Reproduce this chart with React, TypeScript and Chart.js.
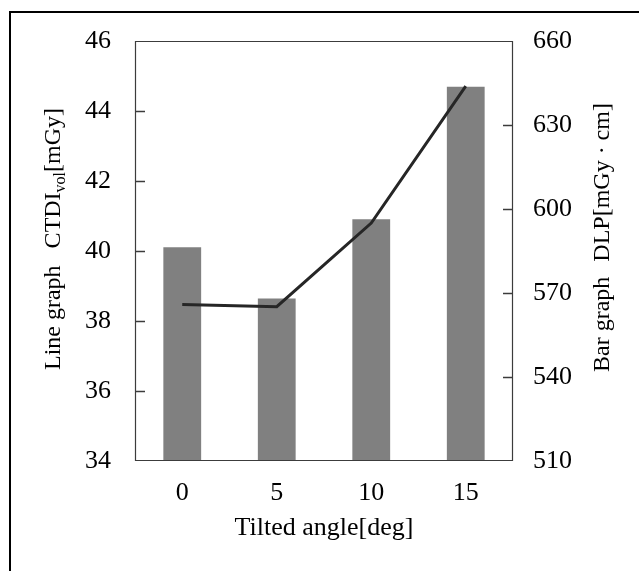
import React, { useEffect, useRef } from 'react';
import { Chart, registerables } from 'chart.js';

Chart.register(...registerables);

const categories = ['0', '5', '10', '15'];
const dlpValues = [586.3, 568.0, 596.3, 643.7];
const ctdiValues = [38.47, 38.41, 40.8, 44.71];
const leftTickValues = [34, 36, 38, 40, 42, 44, 46];
const rightTickValues = [510, 540, 570, 600, 630, 660];

const xTitle = 'Tilted angle[deg]';
const leftTitleParts = ['Line graph', 'CTDI', 'vol', '[mGy]'];
const rightTitleParts = ['Bar graph', 'DLP[mGy \u00B7 cm]'];

const FONT = '"Liberation Serif", "Times New Roman", serif';
const TEXT = '#000000';
const AXIS = '#3c3c3c';

const decorPlugin = {
  id: 'decor',
  afterDraw(chart: any) {
    const { ctx, chartArea: a } = chart;
    const ys = chart.scales['y'];
    const y1 = chart.scales['y1'];
    ctx.save();
    // outer frame (top + left edges)
    ctx.fillStyle = '#000';
    ctx.fillRect(9, 11, 2, chart.height - 11);
    ctx.fillRect(9, 11, chart.width - 9, 2);

    // plot box
    ctx.strokeStyle = AXIS;
    ctx.lineWidth = 1.2;
    const L = Math.round(a.left) + 0.5;
    const T = Math.round(a.top) + 0.5;
    const R = Math.round(a.right) - 0.5;
    const B = Math.round(a.bottom) - 0.5;
    ctx.beginPath();
    ctx.rect(L, T, R - L, B - T);
    ctx.stroke();

    // inner tick marks
    ctx.fillStyle = AXIS;
    for (let i = 1; i < leftTickValues.length - 1; i++) {
      const py = Math.round(ys.getPixelForValue(leftTickValues[i]));
      ctx.fillRect(Math.round(a.left), py - 0.25, 10, 1.5);
    }
    for (let i = 1; i < rightTickValues.length - 1; i++) {
      const py = Math.round(y1.getPixelForValue(rightTickValues[i]));
      ctx.fillRect(Math.round(a.right) - 10, py - 0.25, 10, 1.5);
    }

    // x title
    ctx.fillStyle = TEXT;
    ctx.textBaseline = 'alphabetic';
    ctx.textAlign = 'center';
    ctx.font = `26px ${FONT}`;
    ctx.fillText(xTitle, (a.left + a.right) / 2, 535);

    // left title
    ctx.save();
    ctx.translate(60, 370);
    ctx.rotate(-Math.PI / 2);
    ctx.textAlign = 'left';
    let x = 0;
    ctx.font = `24px ${FONT}`;
    ctx.fillText(leftTitleParts[0], x, 0);
    x += ctx.measureText(leftTitleParts[0]).width + 17;
    ctx.fillText(leftTitleParts[1], x, 0);
    x += ctx.measureText(leftTitleParts[1]).width;
    ctx.font = `16px ${FONT}`;
    ctx.fillText(leftTitleParts[2], x, 5);
    x += ctx.measureText(leftTitleParts[2]).width;
    ctx.font = `24px ${FONT}`;
    ctx.fillText(leftTitleParts[3], x, 0);
    ctx.restore();

    // right title
    ctx.save();
    ctx.translate(609, 372);
    ctx.rotate(-Math.PI / 2);
    ctx.textAlign = 'left';
    ctx.font = `24px ${FONT}`;
    let x2 = 0;
    ctx.fillText(rightTitleParts[0], x2, 0);
    x2 += ctx.measureText(rightTitleParts[0]).width + 15;
    ctx.fillText(rightTitleParts[1], x2, 0);
    ctx.restore();

    ctx.restore();
  },
};

export default function App() {
  const ref = useRef<HTMLCanvasElement | null>(null);

  useEffect(() => {
    if (!ref.current) return;
    const chart = new Chart(ref.current, {
      type: 'bar',
      data: {
        labels: categories,
        datasets: [
          {
            type: 'line',
            label: 'CTDIvol',
            data: ctdiValues,
            yAxisID: 'y',
            borderColor: '#262626',
            borderWidth: 3,
            pointRadius: 0,
            tension: 0,
            fill: false,
            order: 0,
          } as any,
          {
            type: 'bar',
            label: 'DLP',
            data: dlpValues,
            yAxisID: 'y1',
            backgroundColor: '#808080',
            borderWidth: 0,
            categoryPercentage: 1,
            barPercentage: 0.4,
            order: 1,
          },
        ],
      },
      options: {
        responsive: false,
        animation: false,
        layout: { padding: { top: 41, left: 0, right: 0, bottom: 0 } },
        plugins: {
          legend: { display: false },
          tooltip: { enabled: false },
        },
        scales: {
          x: {
            position: 'bottom',
            grid: { display: false, drawTicks: false },
            border: { display: false },
            ticks: {
              font: { family: FONT, size: 26 },
              color: TEXT,
              padding: 17,
              maxRotation: 0,
            },
            afterFit: (s: any) => {
              s.height = 110;
            },
          },
          y: {
            position: 'left',
            min: leftTickValues[0],
            max: leftTickValues[leftTickValues.length - 1],
            grid: { display: false, drawTicks: false },
            border: { display: false },
            ticks: {
              stepSize: leftTickValues[1] - leftTickValues[0],
              font: { family: FONT, size: 26 },
              color: TEXT,
              padding: 24,
            },
            afterFit: (s: any) => {
              s.width = 135;
            },
          },
          y1: {
            position: 'right',
            min: rightTickValues[0],
            max: rightTickValues[rightTickValues.length - 1],
            grid: { display: false, drawTicks: false },
            border: { display: false },
            ticks: {
              stepSize: rightTickValues[1] - rightTickValues[0],
              font: { family: FONT, size: 26 },
              color: TEXT,
              padding: 20,
            },
            afterFit: (s: any) => {
              s.width = 126;
            },
          },
        },
      },
      plugins: [decorPlugin],
    });
    return () => chart.destroy();
  }, []);

  return (
    <div style={{ position: 'absolute', left: 0, top: 0, width: 639, height: 571, background: '#fff' }}>
      <canvas ref={ref} width={639} height={571} style={{ display: 'block' }} />
    </div>
  );
}
